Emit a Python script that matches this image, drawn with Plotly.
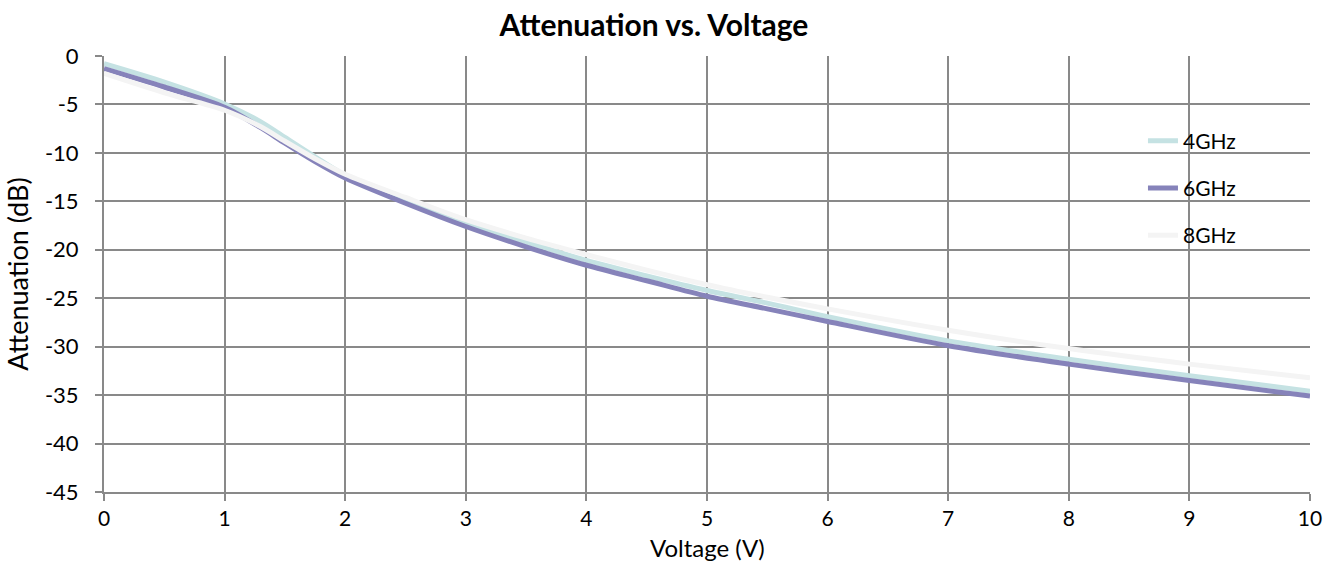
import plotly.graph_objects as go

voltage = [0, 0.5, 1, 1.3, 1.5, 1.75, 2, 2.5, 3, 3.5, 4, 4.5, 5, 5.5, 6, 7, 8, 9, 10]
att_4ghz = [-0.8, -2.7, -4.95, -6.8, -8.4, -10.4, -12.3, -14.8, -17.2, -19.2, -21.1, -22.7, -24.2, -25.5, -26.9, -29.4, -31.3, -33.0, -34.6]
att_6ghz = [-1.3, -3.2, -5.3, -7.4, -9.0, -10.9, -12.6, -15.2, -17.6, -19.7, -21.6, -23.2, -24.8, -26.1, -27.4, -29.9, -31.8, -33.5, -35.1]
att_8ghz = [-1.8, -3.8, -5.6, -7.3, -8.8, -10.6, -12.2, -14.6, -16.9, -18.8, -20.5, -22.1, -23.6, -24.9, -26.1, -28.3, -30.2, -31.8, -33.2]

x_ticks = [0, 1, 2, 3, 4, 5, 6, 7, 8, 9, 10]
x_tick_labels = ["0", "1", "2", "3", "4", "5", "6", "7", "8", "9", "10"]
y_ticks = [0, -5, -10, -15, -20, -25, -30, -35, -40, -45]
y_tick_labels = ["0", "-5", "-10", "-15", "-20", "-25", "-30", "-35", "-40", "-45"]

series = [
    ("4GHz", att_4ghz, "#C5E2E3"),
    ("6GHz", att_6ghz, "#8683BA"),
    ("8GHz", att_8ghz, "#F4F4F4"),
]

FONT = "Lato"
GRID = "#898989"

fig = go.Figure()
for i, (name, vals, col) in enumerate(series):
    fig.add_trace(go.Scatter(
        x=voltage, y=vals, name=name, mode="lines",
        line=dict(color=col, width=5, shape="spline", smoothing=0.8),
        legendgroup=f"g{i}",
    ))

fig.update_layout(
    width=1336, height=563,
    paper_bgcolor="white", plot_bgcolor="white",
    margin=dict(l=104, r=26, t=56, b=71, autoexpand=False),
    font=dict(family=FONT, color="black", size=22),
    title=dict(text="<b>Attenuation vs. Voltage</b>", x=0.4895, xref="container", xanchor="center",
               y=0.955, yref="container", yanchor="middle", font=dict(size=30, family=FONT)),
    legend=dict(x=0.8615, y=0.852, xanchor="left", yanchor="top",
                bgcolor="rgba(0,0,0,0)", font=dict(size=21, family=FONT),
                tracegroupgap=17),
    showlegend=True,
    annotations=[dict(text="Voltage (V)", xref="paper", yref="paper", x=0.5, y=-0.162,
                      xanchor="center", yanchor="bottom", showarrow=False, borderpad=0,
                      font=dict(size=24, family=FONT, color="black"))],
)
fig.update_xaxes(
    range=[0, 10], tickvals=x_ticks, ticktext=x_tick_labels,
    showgrid=True, gridcolor=GRID, gridwidth=2,
    showline=True, linecolor=GRID, linewidth=2,
    ticks="outside", ticklen=7, tickcolor=GRID, tickwidth=2,
    ticklabelstandoff=0, automargin=False,
    zeroline=False,
    tickfont=dict(size=21),
)
fig.update_yaxes(
    range=[-45, 0], tickvals=y_ticks, ticktext=y_tick_labels,
    showgrid=True, gridcolor=GRID, gridwidth=2,
    showline=True, linecolor=GRID, linewidth=2,
    ticks="outside", ticklen=7, tickcolor=GRID, tickwidth=2,
    ticklabelstandoff=12, automargin=False,
    zeroline=False,
    title=dict(text="Attenuation (dB)", standoff=8, font=dict(size=27)),
    tickfont=dict(size=22),
)

fig.write_html("out.html")
